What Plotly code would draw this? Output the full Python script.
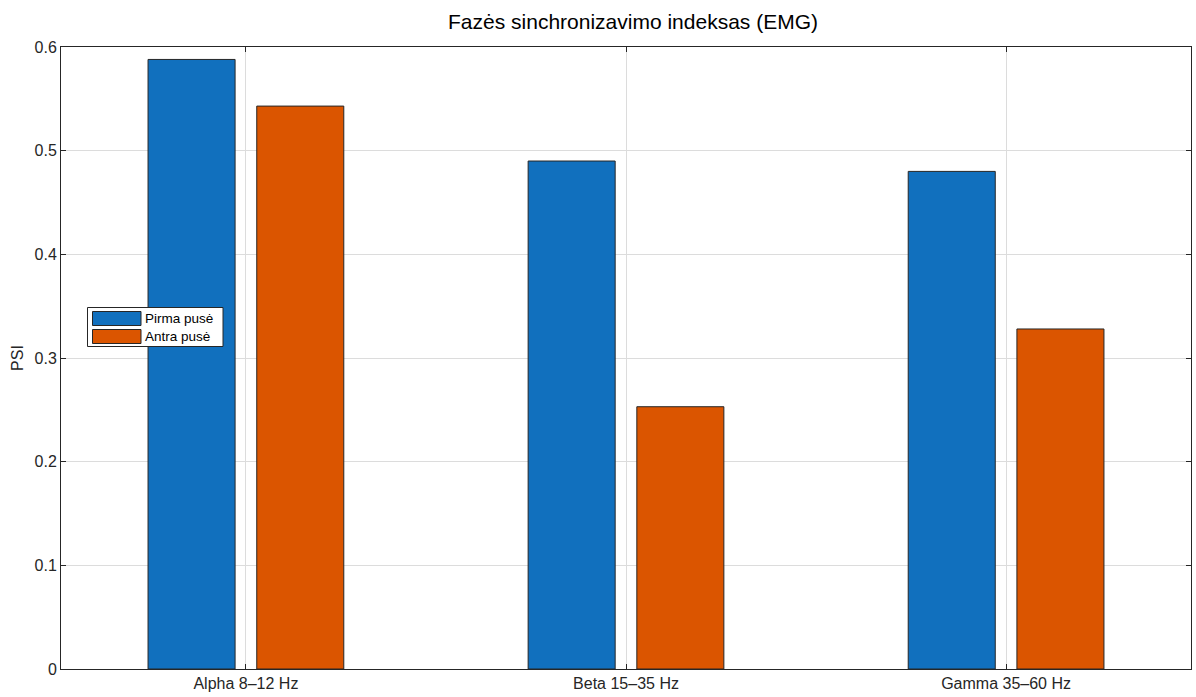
import plotly.graph_objects as go

# Frequency bands and phase-synchronisation index for each side
bands = ["Alpha 8\u201312 Hz", "Beta 15\u201335 Hz", "Gamma 35\u201360 Hz"]
series_names = ["Pirma pus\u0117", "Antra pus\u0117"]
psi_first = [0.588, 0.490, 0.480]
psi_second = [0.543, 0.253, 0.328]
y_ticks = [0, 0.1, 0.2, 0.3, 0.4, 0.5, 0.6]
y_tick_labels = ["0", "0.1", "0.2", "0.3", "0.4", "0.5", "0.6"]
colors = ["#1170BE", "#DB5500"]

FONT = "Liberation Sans, Arial, sans-serif"
TXT = "#262626"

bar_w = 0.229
offsets = [-0.2575, 0.0285]

fig = go.Figure()
for name, vals, col, off in zip(series_names, [psi_first, psi_second], colors, offsets):
    fig.add_trace(go.Bar(
        x=bands, y=vals, name=name, width=bar_w, offset=off,
        marker=dict(color=col, line=dict(color="#262626", width=1)),
        showlegend=False,
    ))

W, H = 1196 - 61 - 5, 697 - 47 - 28

fig.update_layout(
    width=1196, height=697,
    margin=dict(l=61, r=5, t=47, b=28, autoexpand=False),
    plot_bgcolor="white", paper_bgcolor="white",
    font=dict(family=FONT, size=16, color=TXT),
    title=dict(text="Faz\u0117s sinchronizavimo indeksas (EMG)", xref="paper",
               x=(633 - 61) / W, xanchor="center",
               y=1 - 22 / 697, yanchor="middle", font=dict(size=21, color="#000000")),
    barmode="overlay",
)
fig.update_xaxes(
    type="category", range=[-0.4865, 2.4865], automargin=False,
    showline=True, linecolor="#262626", linewidth=1, mirror="ticks",
    ticks="inside", ticklen=5, tickcolor="#262626",
    showgrid=True, gridcolor="#dcdcdc", gridwidth=1,
    tickfont=dict(size=16, color=TXT), zeroline=False,
)
fig.update_yaxes(
    range=[0, 0.6], tickvals=y_ticks, ticktext=y_tick_labels, automargin=False,
    showline=True, linecolor="#262626", linewidth=1, mirror="ticks",
    ticks="inside", ticklen=5, tickcolor="#262626",
    showgrid=True, gridcolor="#dcdcdc", gridwidth=1, zeroline=False,
    tickfont=dict(size=16, color=TXT),
    title=dict(text="PSI", font=dict(size=16, color=TXT), standoff=6),
)

# Legend box drawn in pixel-based paper coordinates
def px(x):
    return (x - 61) / W
def py(y):
    return 1 - (y - 47) / H

fig.add_shape(type="rect", xref="paper", yref="paper",
              x0=px(87.5), x1=px(223), y0=py(307.5), y1=py(346.5),
              line=dict(color="#262626", width=1), fillcolor="white")
swatch_rows = [(311.5, 325.5), (329.5, 343.5)]
for name, col, (t, b) in zip(series_names, colors, swatch_rows):
    fig.add_shape(type="rect", xref="paper", yref="paper",
                  x0=px(92.5), x1=px(141), y0=py(b), y1=py(t),
                  line=dict(color="#262626", width=1), fillcolor=col)
    fig.add_annotation(xref="paper", yref="paper", x=px(143), y=py((t + b) / 2),
                       text=name, showarrow=False, xanchor="left", yanchor="middle",
                       font=dict(size=13.5, color="#000000"))

fig.write_html("out.html")
